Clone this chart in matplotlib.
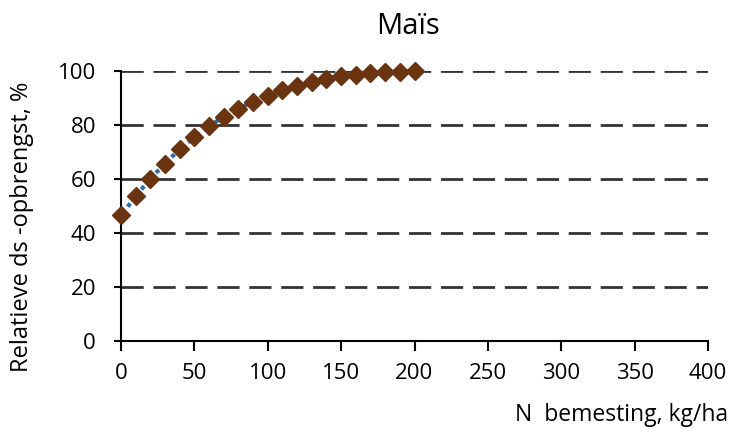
import matplotlib.pyplot as plt
import numpy as np

plt.rcParams['font.family'] = ['Open Sans', 'DejaVu Sans']

n_dose = [0, 10, 20, 30, 40, 50, 60, 70, 80, 90, 100,
          110, 120, 130, 140, 150, 160, 170, 180, 190, 200]
yield_rel = [46.5, 53.6, 60.1, 65.7, 71.0, 75.4, 79.6, 83.0, 86.1, 88.6, 90.8,
             92.9, 94.6, 96.0, 97.2, 98.0, 98.6, 99.1, 99.5, 99.8, 100.0]
yticks = [0, 20, 40, 60, 80, 100]
xticks = [0, 50, 100, 150, 200, 250, 300, 350, 400]

fig = plt.figure(figsize=(7.32, 4.32), dpi=100)
ax = fig.add_axes([121 / 732, 1 - 341 / 432, 587 / 732, 270 / 432])

for v in yticks[1:]:
    ax.axhline(v, color='#333333', linewidth=2.0, dashes=(8, 3.5), zorder=1)

ax.plot(n_dose, yield_rel, color='#2e6da4', linewidth=3, linestyle=':',
        marker='D', markersize=9.5, markerfacecolor='#6b3410',
        markeredgecolor='#6b3410', clip_on=False, zorder=3)

ax.set_xlim(0, 400)
ax.set_ylim(0, 100)
ax.set_xticks(xticks)
ax.set_yticks(yticks)
ax.spines['top'].set_visible(False)
ax.spines['right'].set_visible(False)
ax.spines['left'].set_linewidth(1.5)
ax.spines['bottom'].set_linewidth(1.5)
ax.tick_params(axis='x', direction='out', length=7, width=1.5, labelsize=16, pad=9)
ax.tick_params(axis='y', direction='out', length=5, width=1.5, labelsize=16, pad=13)

fig.text(408 / 732, 1 - 26 / 432, 'Maïs', fontsize=21, ha='center', va='center')
fig.text(22 / 732, 1 - 227 / 432, 'Relatieve ds -opbrengst, %', fontsize=17,
         rotation=90, ha='center', va='center')
fig.text(728 / 732, 1 - 415 / 432, 'N  bemesting, kg/ha', fontsize=16.5,
         ha='right', va='center')

fig.savefig('out.png', dpi=100)
